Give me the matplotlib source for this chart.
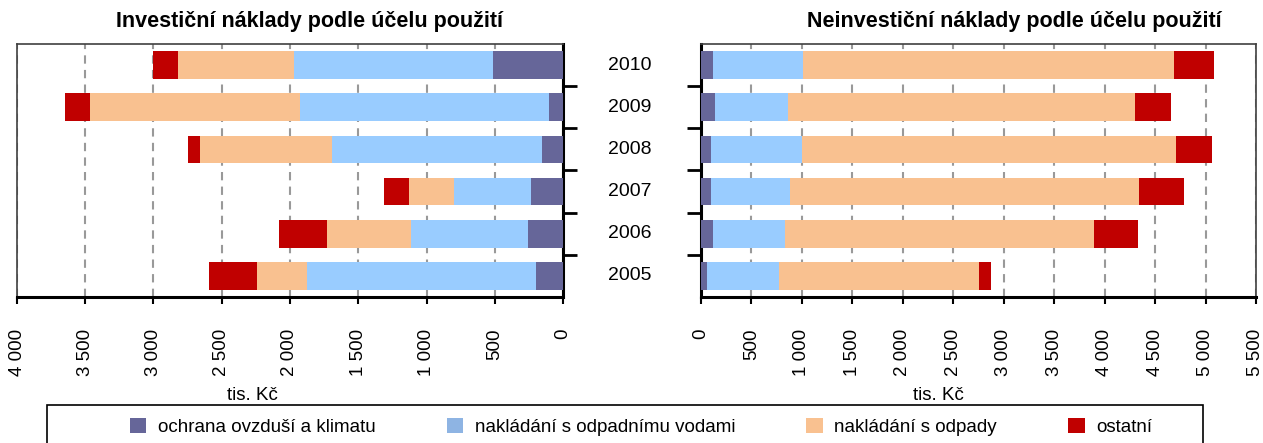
import matplotlib
matplotlib.use("Agg")
import matplotlib.pyplot as plt
from matplotlib.patches import Patch, Rectangle
from matplotlib.ticker import FuncFormatter, MultipleLocator, FixedLocator
import numpy as np

plt.rcParams['font.family'] = ['Liberation Sans', 'DejaVu Sans']

years = ["2005", "2006", "2007", "2008", "2009", "2010"]
series_names = ["ochrana ovzduší a klimatu", "nakládání s odpadnímu vodami",
                "nakládání s odpady", "ostatní"]

# Investiční náklady (tis. Kč), order 2005..2010
inv_ovzdusi = [201, 253, 236, 155, 106, 516]
inv_vody = [1677, 858, 566, 1538, 1821, 1454]
inv_odpady = [364, 617, 323, 967, 1535, 853]
inv_ostatni = [353, 354, 185, 90, 185, 182]

# Neinvestiční náklady (tis. Kč), order 2005..2010
neinv_ovzdusi = [58, 116, 98, 98, 138, 116]
neinv_vody = [717, 720, 786, 902, 724, 891]
neinv_odpady = [1978, 3062, 3461, 3705, 3436, 3677]
neinv_ostatni = [120, 437, 440, 357, 357, 400]

colors = ["#666699", "#99CCFF", "#F9C190", "#C00000"]
legend_colors = ["#666699", "#8EB4E3", "#F9C190", "#C00000"]

W, H = 1263, 443
fig = plt.figure(figsize=(W / 100, H / 100), dpi=100)

def fx(px):
    return px / W

def fy(py):
    return 1 - py / H

ax_top, ax_bot = 44, 297
axL = fig.add_axes([fx(17), fy(ax_bot), fx(563 - 17), (ax_bot - ax_top) / H])
axR = fig.add_axes([fx(701), fy(ax_bot), fx(1256 - 701), (ax_bot - ax_top) / H])

y = np.arange(len(years))
bh = 0.66

def thousands(v, pos):
    v = int(round(v))
    return f"{v:,}".replace(",", " ")

def draw(ax, data):
    left = np.zeros(len(years))
    for vals, c in zip(data, colors):
        ax.barh(y, vals, left=left, height=bh, color=c, zorder=3, linewidth=0)
        left += np.array(vals)
    ax.set_ylim(-0.5, len(years) - 0.5)
    ax.xaxis.set_major_locator(MultipleLocator(500))
    ax.xaxis.set_major_formatter(FuncFormatter(thousands))
    ax.grid(axis='x', color='#999999', linestyle=(0, (4, 3)), linewidth=1.5, zorder=1)
    ax.set_yticks([])
    ax.yaxis.set_minor_locator(FixedLocator(np.arange(0.5, len(years) - 1, 1.0)))
    ax.tick_params(axis='y', which='minor', length=10, width=2, direction='out', color='black')
    ax.tick_params(axis='x', which='major', length=5, width=1.5, direction='out',
                   labelsize=13.5, labelrotation=90, pad=18, color='black')
    for s in ax.spines.values():
        s.set_color('#404040')
        s.set_linewidth(1.2)
    ax.spines['bottom'].set_color('black')
    ax.spines['bottom'].set_linewidth(2.2)

draw(axL, [inv_ovzdusi, inv_vody, inv_odpady, inv_ostatni])
axL.set_xlim(4000, 0)
axL.spines['right'].set_color('black')
axL.spines['right'].set_linewidth(2.2)
axL.tick_params(axis='y', which='both', right=True, left=False)

draw(axR, [neinv_ovzdusi, neinv_vody, neinv_odpady, neinv_ostatni])
axR.set_xlim(0, 5500)
axR.spines['left'].set_color('black')
axR.spines['left'].set_linewidth(2.2)
axR.tick_params(axis='y', which='both', left=True, right=False)

for ax in (axL, axR):
    for lab in ax.get_xticklabels():
        lab.set_verticalalignment('top')

# Year labels between the panels
trans = axL.get_yaxis_transform()
xpos = (630 - 17) / (563 - 17)
for yi, yr in zip(y, years):
    axL.text(xpos, yi, yr, transform=trans, ha='center', va='center',
             fontsize=14, clip_on=False)

# Titles
fig.text(fx(309), fy(22), "Investiční náklady podle účelu použití", ha='center', va='center',
         fontsize=15.5, fontweight='bold')
fig.text(fx(1014), fy(22), "Neinvestiční náklady podle účelu použití", ha='center', va='center',
         fontsize=15.5, fontweight='bold')

# Axis unit labels
fig.text(fx(252), fy(395), "tis. Kč", ha='center', va='center', fontsize=13.5)
fig.text(fx(938), fy(395), "tis. Kč", ha='center', va='center', fontsize=13.5)

# Legend
handles = [Patch(facecolor=c, edgecolor='none') for c in legend_colors]
leg = fig.legend(handles, series_names, loc='center', bbox_to_anchor=(fx(641), fy(427)),
                 ncol=4, frameon=False, fontsize=13.5, handlelength=0.9, handleheight=0.9,
                 handletextpad=0.6, columnspacing=3.8, borderaxespad=0)
fig.patches.append(Rectangle((fx(47), fy(446)), fx(1203 - 47), (446 - 405) / H,
                             transform=fig.transFigure, fill=False, edgecolor='black',
                             linewidth=1.2))

fig.savefig("out.png", dpi=100)
